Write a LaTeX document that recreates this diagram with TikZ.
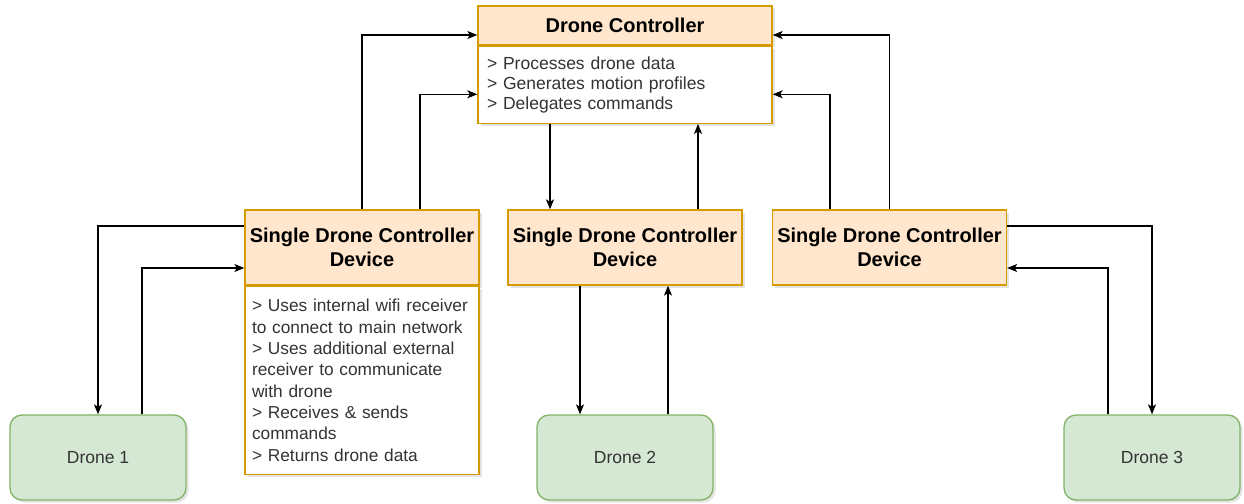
\documentclass[tikz,border=0pt]{standalone}
\usepackage{fontspec}
\setmainfont{Liberation Sans}
\usetikzlibrary{positioning,shadows,arrows.meta}

\definecolor{hdrfill}{HTML}{FFE6CC}
\definecolor{hdrline}{HTML}{D79B00}
\definecolor{dronefill}{HTML}{D5E8D4}
\definecolor{droneline}{HTML}{82B366}
\definecolor{bodytext}{HTML}{333333}

\tikzstyle{shade} = [drop shadow={opacity=0.22, shadow xshift=2.5pt, shadow yshift=-2.5pt}]
\tikzstyle{hblock} = [rectangle, draw=hdrline, fill=hdrfill, line width=1.3pt, align=center, inner sep=0pt, font=\fontsize{20}{24}\selectfont\bfseries, shade]
\tikzstyle{tblock} = [rectangle, draw=hdrline, fill=white, line width=1.3pt, align=left, text=bodytext, shade]
\tikzstyle{dblock} = [rectangle, draw=droneline, fill=dronefill, line width=1.3pt, rounded corners=12pt, minimum width=176pt, minimum height=85pt, text=bodytext, font=\fontsize{17.5}{20}\selectfont, shade]
\tikzstyle{arrow} = [line width=1.3pt, -{Stealth[length=10pt, width=8pt, inset=2.5pt]}]

\begin{document}
\begin{tikzpicture}[x=1pt, y=-1pt]
    \useasboundingbox (0,0) rectangle (1244,503);
    % main controller
    \node (node1) [hblock, minimum width=294pt, minimum height=39pt] at (625,25.5) {Drone Controller};
    \node (node2) [tblock, below=0pt of node1, minimum height=77pt, inner xsep=9pt, text width=276pt, font=\fontsize{17.5}{20}\selectfont]
        {> Processes drone data\\> Generates motion profiles\\> Delegates commands};
    % single drone controller devices
    \node (node3) [hblock, minimum width=234pt, minimum height=75pt] at (362,247.5) {Single Drone Controller\\Device};
    \node (node4) [tblock, below=0pt of node3, minimum height=188pt, inner xsep=7pt, text width=220pt, font=\fontsize{17.3}{21.3}\selectfont]
        {> Uses internal wifi receiver\\to connect to main network\\> Uses additional external\\receiver to communicate\\with drone\\> Receives \& sends\\commands\\> Returns drone data};
    \node (node5) [hblock, minimum width=234pt, minimum height=75pt] at (625,247.5) {Single Drone Controller\\Device};
    \node (node6) [hblock, minimum width=234pt, minimum height=75pt] at (889.5,247.5) {Single Drone Controller\\Device};
    % drones
    \node (node7) [dblock] at (98,457.5) {Drone 1};
    \node (node8) [dblock] at (625,457.5) {Drone 2};
    \node (node9) [dblock] at (1152,457.5) {Drone 3};

    \draw [arrow] (node3.north) |- ([yshift=-9.5pt]node1.west);
    \draw [arrow] ([xshift=58pt]node3.north) |- ([yshift=-9.5pt]node2.west);
    \draw [arrow] ([xshift=-75pt]node2.south) -- ([xshift=-75pt]node5.north);
    \draw [arrow] ([xshift=73pt]node5.north) -- ([xshift=73pt]node2.south);
    \draw [arrow] (node6.north) |- ([yshift=-9.5pt]node1.east);
    \draw [arrow] ([xshift=-59.5pt]node6.north) |- ([yshift=-9.5pt]node2.east);
    \draw [arrow] ([yshift=21.5pt]node3.west) -| (node7.north);
    \draw [arrow] ([xshift=44pt]node7.north) |- ([yshift=-20.5pt]node3.west);
    \draw [arrow] ([xshift=-45pt]node5.south) -- ([xshift=-45pt]node8.north);
    \draw [arrow] ([xshift=43pt]node8.north) -- ([xshift=43pt]node5.south);
    \draw [arrow] ([yshift=21.5pt]node6.east) -| (node9.north);
    \draw [arrow] ([xshift=-44pt]node9.north) |- ([yshift=-20.5pt]node6.east);
\end{tikzpicture}
\end{document}
